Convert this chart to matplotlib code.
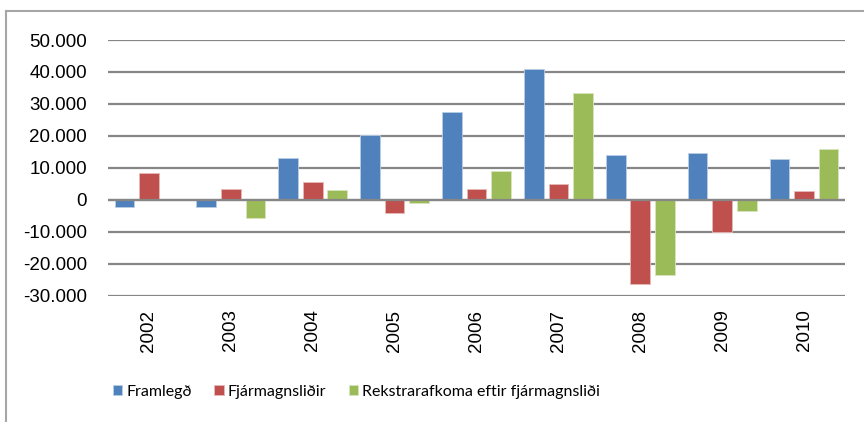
import matplotlib.pyplot as plt
import numpy as np
from matplotlib.ticker import FuncFormatter
from matplotlib.lines import Line2D

years = ['2002', '2003', '2004', '2005', '2006', '2007', '2008', '2009', '2010']
framlegd = [-2100, -2300, 13100, 20200, 27400, 40800, 14050, 14500, 12900]
fjarmagnslidir = [8250, 3450, 5500, -4050, 3250, 5100, -26250, -10000, 2700]
rekstrarafkoma = [0, -5700, 3000, -900, 9050, 33550, -23400, -3450, 15750]
series_names = ['Framlegð', 'Fjármagnsliðir', 'Rekstrarafkoma eftir fjármagnsliði']
colors = ['#4F81BD', '#C0504D', '#9BBB59']
edges = ['#B9CDE5', '#E6B9B8', '#D7E4BD']

plt.rcParams['font.family'] = ['Liberation Sans', 'DejaVu Sans']

fig = plt.figure(figsize=(8.64, 4.22), dpi=100)
ax = fig.add_axes([0.125, 0.2993, 0.853, 0.6059])

x = np.arange(len(years))
w = 0.24
off = 0.30
for i, vals in enumerate([framlegd, fjarmagnslidir, rekstrarafkoma]):
    ax.bar(x + (i - 1) * off, vals, w, color=colors[i], edgecolor=edges[i],
           linewidth=0.6, label=series_names[i], zorder=3)

ax.set_xlim(-0.5, 8.5)
ax.set_ylim(-30000, 50000)
ax.set_yticks(range(-30000, 50001, 10000))
ax.yaxis.set_major_formatter(FuncFormatter(lambda v, p: f'{int(v):,}'.replace(',', '.')))
ax.set_xticks(x)
ax.set_xticklabels(years, rotation=90)
ax.tick_params(axis='y', length=0, pad=15, labelsize=13.5, colors='black')
ax.tick_params(axis='x', length=0, pad=10, labelsize=13.5)
ax.grid(axis='y', color='#868686', linewidth=1.6, zorder=1)
ax.axhline(0, color='#868686', linewidth=1.6, zorder=4)
for s in ax.spines.values():
    s.set_visible(False)

# outer chart frame (only left and top visible in the crop)
fig.add_artist(Line2D([6/864, 6/864], [0, 1 - 11/422], color='#A6A6A6', linewidth=1.5, transform=fig.transFigure))
fig.add_artist(Line2D([6/864, 1], [1 - 11/422, 1 - 11/422], color='#A6A6A6', linewidth=1.5, transform=fig.transFigure))

fig.legend(loc='center', bbox_to_anchor=(0.4126, 1 - 392/422), ncol=3, frameon=False,
           prop={'family': ['Lato', 'Liberation Sans'], 'size': 11.5},
           handlelength=0.6, handleheight=0.6, handletextpad=0.25,
           columnspacing=1.4)

plt.savefig('out.png', dpi=100)
